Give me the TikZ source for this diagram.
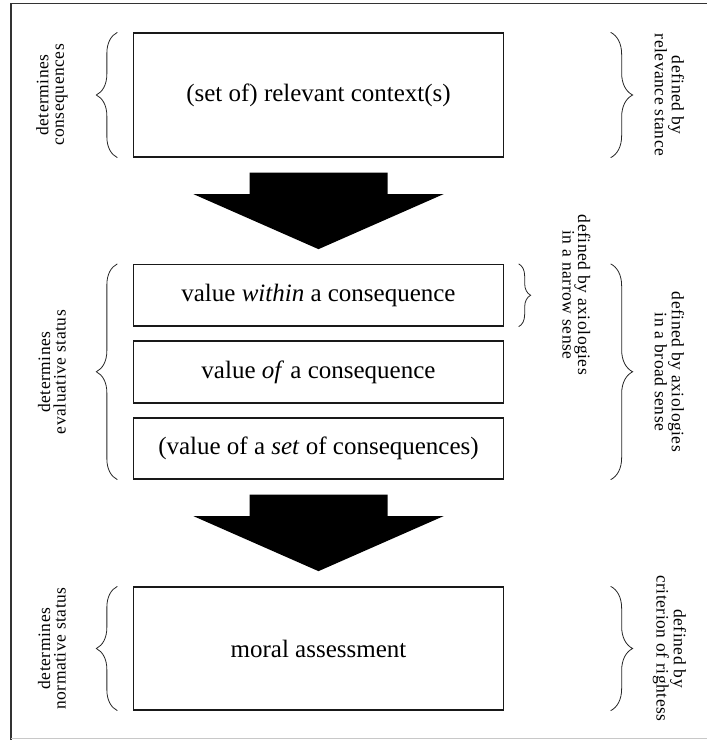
\documentclass[tikz,border=0pt]{standalone}
\usepackage{fontspec}
\setmainfont{Liberation Serif}
\newfontfamily\sidefont[LetterSpace=3]{Liberation Serif}
\usetikzlibrary{decorations.pathreplacing,calc}

\definecolor{framegray}{HTML}{333333}
\definecolor{lowgray}{HTML}{C8C8C8}

\tikzset{
  stage/.style={draw=black!90, line width=1.3pt, minimum width=370pt,
    inner sep=0pt, font=\fontsize{25}{28}\selectfont},
  bracket/.style={draw=black!85, line width=0.8pt,
    decorate, decoration={brace, amplitude=#1}},
  bracket/.default=21pt,
  sidenote/.style={align=center, inner sep=0pt,
    font=\sidefont\fontsize{17.5}{15.5}\selectfont},
  bigarrow/.pic={
    \fill (-69,0) -- (69,0) -- (69,21.5) -- (125,21.5) -- (0,76.5)
      -- (-125,21.5) -- (-69,21.5) -- cycle;
  }
}

\begin{document}
\begin{tikzpicture}[x=1pt, y=-1pt]
\useasboundingbox (0,0) rectangle (707,740);

% outer frame
\draw[framegray, line width=1.6pt] (11,741) -- (11,3.3) -- (708,3.3);
\draw[lowgray, line width=1pt] (11,738.5) -- (708,738.5);

% stages
\node[stage, minimum height=124pt] (ctx) at (318.5,95) {(set of) relevant context(s)};
\node[stage, minimum height=61.5pt] (within) at (318.5,295.25) {value \textit{within} a consequence};
\node[stage, minimum height=62pt] (of) at (318.5,372) {value \textit{of} a consequence};
\node[stage, minimum height=61pt] (set) at (318.5,448.5) {(value of a \textit{set} of consequences)};
\node[stage, minimum height=123pt] (moral) at (318.5,648.5) {moral assessment};

% transition arrows
\pic at ($(ctx.south)+(0,15)$) {bigarrow};
\pic at ($(set.south)+(0,15)$) {bigarrow};

% left brackets
\draw[bracket] ([xshift=-15.5pt]ctx.south west) -- ([xshift=-15.5pt]ctx.north west);
\draw[bracket] ([xshift=-15.5pt]set.south west) -- ([xshift=-15.5pt]within.north west);
\draw[bracket] ([xshift=-15.5pt]moral.south west) -- ([xshift=-15.5pt]moral.north west);

% right brackets
\draw[bracket=22pt] ([xshift=106.5pt]ctx.north east) -- ([xshift=106.5pt]ctx.south east);
\draw[bracket=12pt] ([xshift=14.5pt]within.north east) -- ([xshift=14.5pt]within.south east);
\draw[bracket=22pt] ([xshift=106.5pt]within.north east) -- ([xshift=106.5pt]set.south east);
\draw[bracket=22pt] ([xshift=106.5pt]moral.north east) -- ([xshift=106.5pt]moral.south east);

% left notes
\node[sidenote, rotate=90] (nconseq) at (52,95) {determines\\consequences};
\node[sidenote, rotate=90] (neval) at (52,372) {determines\\evaluative status};
\node[sidenote, rotate=90] (nnorm) at (52,648.5) {determines\\normative status};

% right notes
\node[sidenote, rotate=-90] (nrel) at (669.5,95) {defined by\\relevance stance};
\node[sidenote, rotate=-90] (nnarrow) at (576.5,295) {defined by axiologies\\in a narrow sense};
\node[sidenote, rotate=-90] (nbroad) at (669.5,372) {defined by axiologies\\in a broad sense};
\node[sidenote, rotate=-90] (nright) at (669.5,648.5) {defined by\\criterion of rightess};
\end{tikzpicture}
\end{document}
